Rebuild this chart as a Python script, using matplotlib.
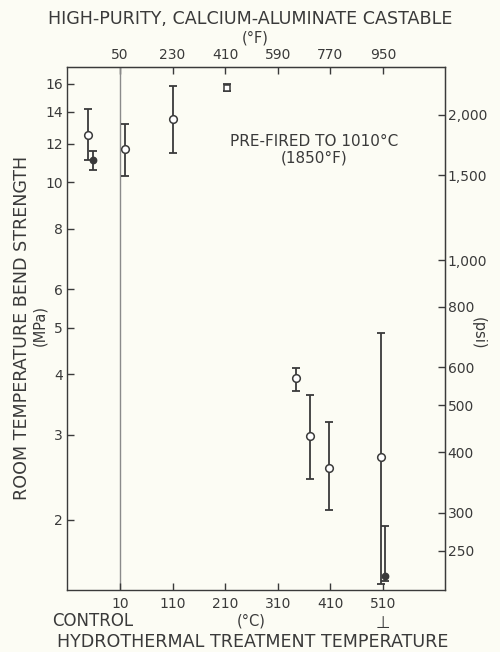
import numpy as np
import matplotlib
matplotlib.use("Agg")
import matplotlib.pyplot as plt
from matplotlib.ticker import FixedLocator, NullLocator

# hydrothermal treatment temperature (deg C), negative = control specimens
temps = [-50, -42, 20, 110, 213, 345, 372, 407, 506, 514]
strength = [12.5, 11.1, 11.7, 13.5, 15.7, 3.93, 2.98, 2.56, 2.70, 1.53]
upper = [14.2, 11.6, 13.2, 15.8, 15.95, 4.13, 3.62, 3.18, 4.88, 1.94]
lower = [11.1, 10.6, 10.3, 11.5, 15.45, 3.69, 2.43, 2.09, 1.47, 1.49]
marker = ['o', 'o', 'o', 'o', 's', 'o', 'o', 'o', 'o', 'o']
filled = [False, True, False, False, False, False, False, False, False, True]

c_ticks = [10, 110, 210, 310, 410, 510]
f_ticks = [50, 230, 410, 590, 770, 950]
mpa_ticks = [2, 3, 4, 5, 6, 8, 10, 12, 14, 16]
psi_ticks = [250, 300, 400, 500, 600, 800, 1000, 1500, 2000]
psi_labels = ["250", "300", "400", "500", "600", "800", "1,000", "1,500", "2,000"]

ink = "#3a3a3a"
bg = "#fcfcf4"
plt.rcParams['font.family'] = ['DejaVu Sans']

fig = plt.figure(figsize=(5, 6.52), dpi=100, facecolor=bg)
ax = fig.add_axes([0.134, 0.095, 0.756, 0.802], facecolor=bg)

ax.set_yscale('log')
ax.set_xlim(-90.6, 627.7)
ax.set_ylim(1.43, 17.3)

# control separator
ax.axvline(10, color="#8a8a8a", lw=1.0, zorder=1)

t = np.array(temps)
s = np.array(strength)
yerr = [s - np.array(lower), np.array(upper) - s]
ax.errorbar(t, s, yerr=yerr, fmt='none', ecolor=ink, elinewidth=1.3,
            capsize=3.2, capthick=1.3, zorder=2)
for i in range(len(temps)):
    fc = ink if filled[i] else 'white'
    ms = 4.5 if filled[i] else 5.5
    if marker[i] == 's':
        ms = 4.5
    ax.plot(temps[i], strength[i], marker[i], ms=ms, mfc=fc, mec=ink, mew=1.1, zorder=3)

for sp in ax.spines.values():
    sp.set_color(ink)
    sp.set_linewidth(1.0)

ax.yaxis.set_major_locator(FixedLocator(mpa_ticks))
ax.yaxis.set_minor_locator(NullLocator())
ax.set_yticklabels([str(v) for v in mpa_ticks])
ax.set_xticks(c_ticks)
ax.tick_params(direction='in', length=5, width=1, colors=ink, labelsize=10)
ax.tick_params(axis='x', pad=5)
ax.tick_params(axis='y', pad=3)

top = ax.secondary_xaxis('top', functions=(lambda c: c * 9 / 5 + 32, lambda fv: (fv - 32) * 5 / 9))
top.set_xticks(f_ticks)
top.tick_params(direction='in', length=5, width=1, colors=ink, labelsize=10, pad=4)
top.spines['top'].set_color(ink)

right = ax.secondary_yaxis('right', functions=(lambda m: m * 145.038, lambda p: p / 145.038))
right.yaxis.set_major_locator(FixedLocator(psi_ticks))
right.yaxis.set_minor_locator(NullLocator())
right.set_yticklabels(psi_labels)
right.tick_params(direction='in', length=5, width=1, colors=ink, labelsize=10, pad=2)
right.spines['right'].set_color(ink)

ax.text(0.654, 0.842, "PRE-FIRED TO 1010°C\n(1850°F)", transform=ax.transAxes,
        ha='center', va='center', fontsize=11, color=ink, linespacing=1.05)

fig.text(0.5, 0.971, "HIGH-PURITY, CALCIUM-ALUMINATE CASTABLE", ha='center', va='center',
         fontsize=12.6, color=ink)
fig.text(0.51, 0.942, "(°F)", ha='center', va='center', fontsize=10.5, color=ink)
fig.text(0.186, 0.048, "CONTROL", ha='center', va='center', fontsize=12, color=ink)
fig.text(0.503, 0.048, "(°C)", ha='center', va='center', fontsize=10.5, color=ink)
fig.text(0.766, 0.044, "⊥", ha='center', va='center', fontsize=12, color=ink)
fig.text(0.505, 0.015, "HYDROTHERMAL TREATMENT TEMPERATURE", ha='center', va='center',
         fontsize=12.6, color=ink)
fig.text(0.044, 0.497, "ROOM TEMPERATURE BEND STRENGTH", rotation=90, ha='center', va='center',
         fontsize=12.6, color=ink)
fig.text(0.079, 0.5, "(MPa)", rotation=90, ha='center', va='center', fontsize=10.5, color=ink)
fig.text(0.956, 0.489, "(psi)", rotation=-90, ha='center', va='center', fontsize=10.5, color=ink)

fig.savefig("out.png", dpi=100, facecolor=bg)
